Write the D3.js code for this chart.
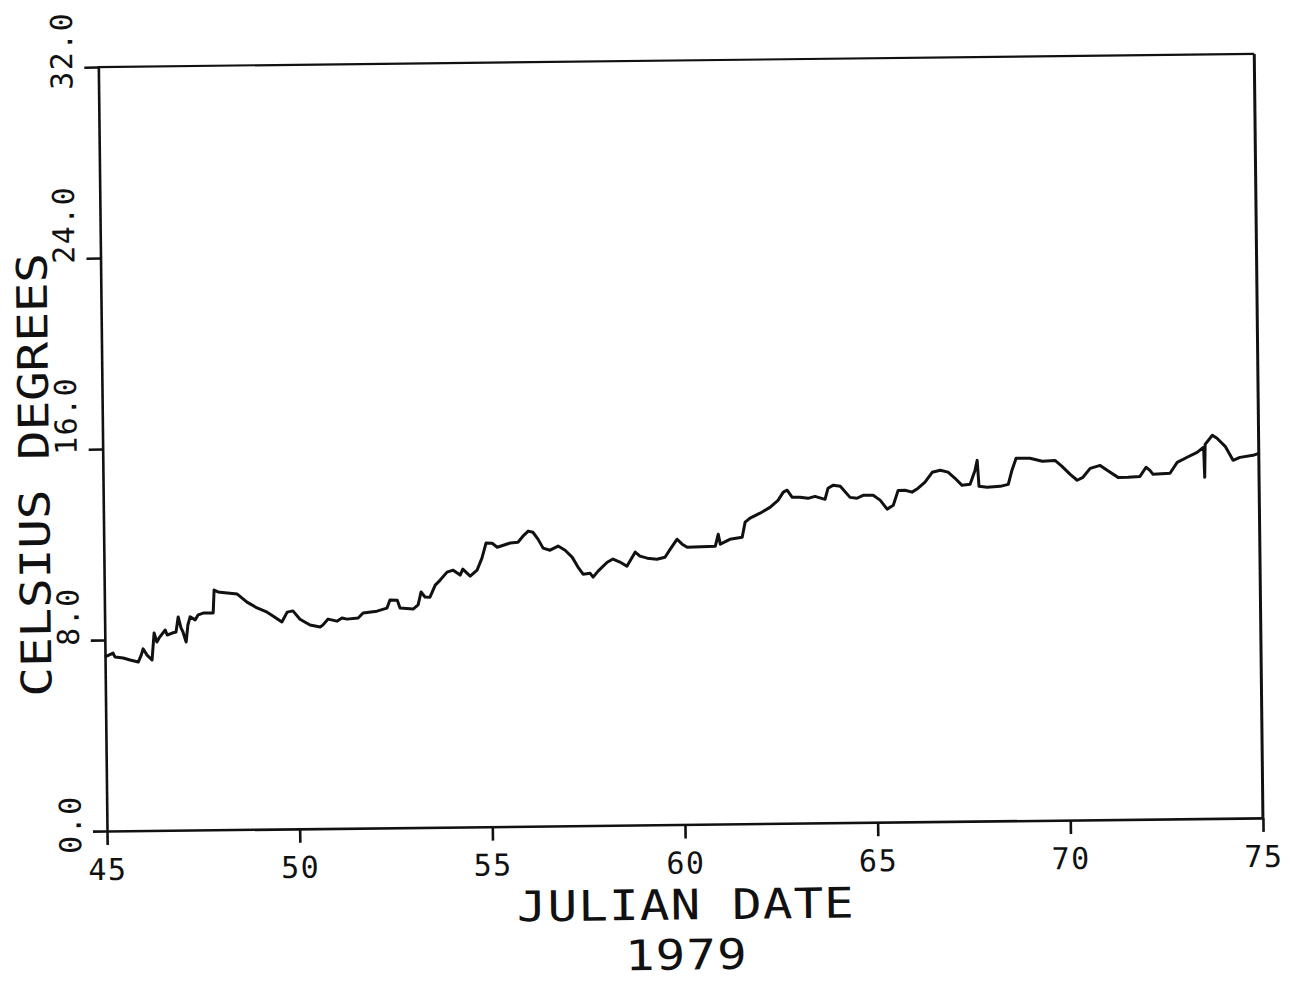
<!DOCTYPE html>
<html lang="en">
<head>
<meta charset="UTF-8">
<title>Celsius degrees by Julian date, 1979</title>
<script src="https://d3js.org/d3.v7.min.js"></script>
<style>
  body { margin: 0; background: #fff; }
  svg { display: block; }
  text { font-family: "DejaVu Sans Mono", monospace; fill: #111; }
</style>
</head>
<body>
<svg id="chart"></svg>
<script>
// values
const days = [45.00,45.21,45.26,45.47,45.65,45.86,45.94,45.99,46.09,46.22,
  46.28,46.35,46.41,46.57,46.62,46.75,46.85,46.91,46.98,47.03,
  47.11,47.16,47.22,47.35,47.43,47.56,47.82,47.85,47.95,48.19,
  48.45,48.70,48.96,49.22,49.37,49.60,49.74,49.89,50.07,50.33,
  50.59,50.66,50.80,51.03,51.16,51.29,51.58,51.71,52.07,52.33,
  52.41,52.60,52.67,53.01,53.14,53.22,53.32,53.45,53.59,53.72,
  53.90,54.06,54.24,54.31,54.50,54.68,54.81,54.92,55.08,55.21,
  55.55,55.75,55.88,56.02,56.14,56.27,56.40,56.58,56.79,56.97,
  57.15,57.30,57.43,57.61,57.69,57.82,58.06,58.21,58.39,58.57,
  58.71,58.79,58.91,59.10,59.35,59.56,59.70,59.88,60.01,60.14,
  60.87,60.95,61.00,61.25,61.57,61.65,61.78,62.04,62.30,62.51,
  62.65,62.75,62.88,63.08,63.29,63.47,63.73,63.81,63.95,64.13,
  64.38,64.56,64.72,64.98,65.16,65.34,65.50,65.63,65.81,65.99,
  66.15,66.33,66.52,66.73,66.93,67.11,67.29,67.50,67.63,67.69,
  67.73,67.94,68.28,68.49,68.59,68.70,69.06,69.38,69.71,69.89,
  70.10,70.28,70.43,70.62,70.88,71.06,71.34,71.60,71.91,72.07,
  72.17,72.25,72.69,72.88,73.14,73.40,73.57,73.59,73.61,73.80,
  73.92,74.13,74.33,74.51,74.85,75.00];

const temps = [7.29,7.45,7.28,7.24,7.15,7.06,7.35,7.61,7.35,7.14,
  8.27,7.89,8.06,8.39,8.18,8.26,8.30,8.93,8.47,8.30,
  7.88,8.59,8.93,8.80,9.01,9.08,9.08,10.04,9.96,9.91,
  9.86,9.52,9.27,9.09,8.93,8.67,9.08,9.13,8.78,8.53,
  8.44,8.52,8.77,8.68,8.81,8.76,8.80,9.01,9.08,9.20,
  9.54,9.53,9.20,9.15,9.32,9.86,9.65,9.64,10.14,10.35,
  10.68,10.76,10.55,10.80,10.50,10.75,11.25,11.88,11.87,11.70,
  11.87,11.90,12.15,12.36,12.31,12.02,11.64,11.55,11.72,11.54,
  11.25,10.83,10.53,10.57,10.40,10.65,11.02,11.15,11.02,10.84,
  11.22,11.43,11.26,11.17,11.12,11.20,11.54,11.95,11.74,11.61,
  11.64,12.14,11.72,11.92,12.00,12.63,12.80,13.00,13.24,13.53,
  13.87,13.95,13.65,13.65,13.60,13.68,13.55,14.01,14.14,14.09,
  13.62,13.58,13.70,13.70,13.49,13.11,13.27,13.89,13.89,13.81,
  13.97,14.22,14.63,14.71,14.63,14.37,14.07,14.11,14.69,15.11,
  14.02,13.98,14.01,14.09,14.68,15.18,15.17,15.04,15.07,14.82,
  14.48,14.23,14.35,14.72,14.84,14.63,14.33,14.33,14.36,14.74,
  14.61,14.44,14.48,14.93,15.14,15.34,15.55,14.29,15.67,16.05,
  15.92,15.58,14.99,15.11,15.19,15.27];

const xTicks = [45, 50, 55, 60, 65, 70, 75];
const yTicks = [0, 8, 16, 24, 32];
const xTitle = "JULIAN DATE";
const xSubtitle = "1979";
const yTitle = "CELSIUS DEGREES";

const W = 1290, H = 981;
const margin = { top: 67, right: 27, bottom: 150, left: 107 };
const width = W - margin.left - margin.right;
const height = H - margin.top - margin.bottom;
const tilt = -0.65; // the scan is slightly rotated
const wide = 1.17;  // plotter lettering is wider than the font

const svg = d3.select("#chart")
  .attr("width", W)
  .attr("height", H);

svg.append("rect").attr("width", W).attr("height", H).attr("fill", "#fff");

const g = svg.append("g")
  .attr("transform", `translate(${margin.left},${margin.top + height}) rotate(${tilt}) translate(0,${-height})`);

const x = d3.scaleLinear().domain([45, 75]).range([0, width]);
const y = d3.scaleLinear().domain([0, 32]).range([height, 0]);

// bottom axis
const xAxis = g.append("g")
  .attr("transform", `translate(0,${height})`)
  .call(d3.axisBottom(x).tickValues(xTicks).tickSize(14).tickSizeOuter(0));
xAxis.selectAll("text")
  .attr("y", 49)
  .attr("dy", null)
  .style("font-size", "30px")
  .style("letter-spacing", "1.5px");

// left axis, labels turned on their side
const yAxis = g.append("g")
  .call(d3.axisLeft(y).tickValues(yTicks).tickSize(14).tickSizeOuter(0).tickFormat(d3.format(".1f")));
yAxis.selectAll("text")
  .attr("x", null)
  .attr("dy", null)
  .attr("text-anchor", "start")
  .attr("transform", (d, i) => `translate(-26,${(i === 0 || i === yTicks.length - 1) ? 22 : 5}) rotate(-90)`)
  .style("font-size", "30px")
  .style("letter-spacing", "1.5px");

g.selectAll(".domain, .tick line")
  .attr("stroke", "#111")
  .attr("stroke-width", 2.6);

// top and right edges of the frame
g.append("line")
  .attr("x1", x(45) - 1).attr("x2", x(75))
  .attr("y1", y(32)).attr("y2", y(32))
  .attr("stroke", "#111").attr("stroke-width", 2.2);
g.append("line")
  .attr("x1", x(75)).attr("x2", x(75))
  .attr("y1", y(32)).attr("y2", y(0))
  .attr("stroke", "#111").attr("stroke-width", 3);

// temperature trace
const line = d3.line()
  .x(d => x(d[0]))
  .y(d => y(d[1]));

g.append("path")
  .datum(d3.zip(days, temps))
  .attr("d", line)
  .attr("fill", "none")
  .attr("stroke", "#111")
  .attr("stroke-width", 3)
  .attr("stroke-linejoin", "round");

// titles
g.append("text")
  .attr("transform", `translate(${width / 2},${height + 95}) scale(${wide},1)`)
  .attr("text-anchor", "middle")
  .style("font-size", "42px")
  .style("letter-spacing", "1px")
  .text(xTitle);

g.append("text")
  .attr("transform", `translate(${width / 2},${height + 145}) scale(${wide},1)`)
  .attr("text-anchor", "middle")
  .style("font-size", "42px")
  .style("letter-spacing", "1px")
  .text(xSubtitle);

g.append("text")
  .attr("transform", `translate(-54,${height / 2 + 25}) rotate(-90) scale(${wide},1)`)
  .attr("text-anchor", "middle")
  .style("font-size", "42px")
  .text(yTitle);
</script>
</body>
</html>
